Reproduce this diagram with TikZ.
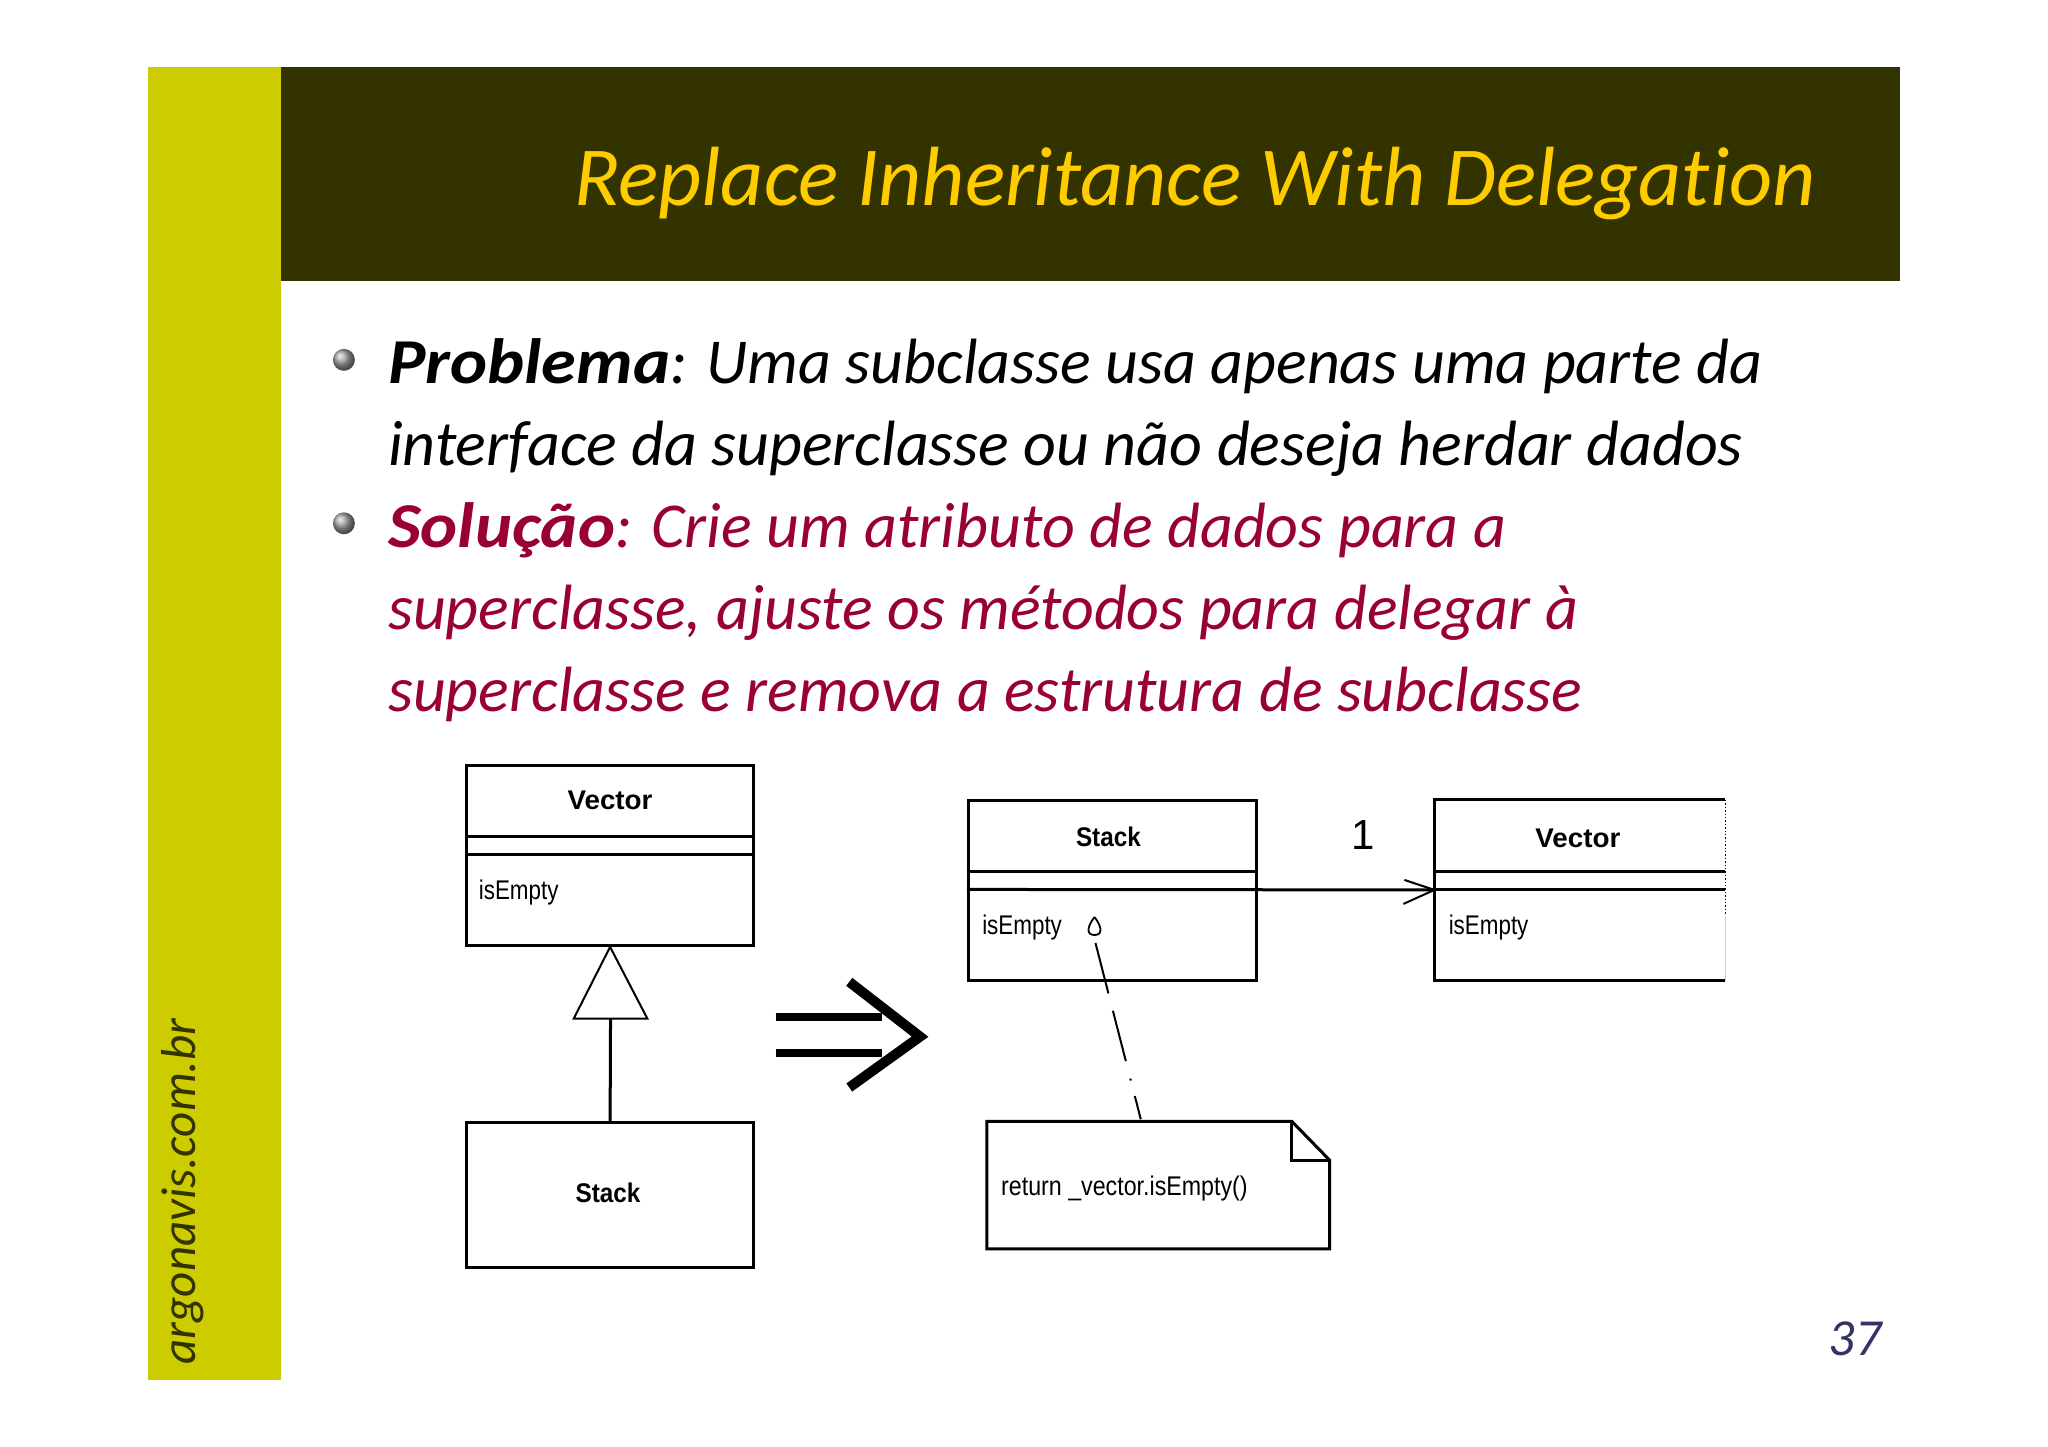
\documentclass[tikz,border=0pt]{standalone}
\usepackage{fontspec}
\setmainfont[Ligatures={NoCommon}]{Carlito}
\newfontfamily\umlfont{Liberation Sans}
\definecolor{bandc}{HTML}{CCCC00}
\definecolor{headc}{HTML}{333300}
\definecolor{titlec}{HTML}{FFCC00}
\definecolor{redc}{HTML}{990033}
\definecolor{numc}{HTML}{333366}
\newcommand{\bhead}[1]{\scalebox{1.1}[1]{\textbf{#1}}}
\tikzset{
  umlbox/.style={draw=black,line width=1.5pt,fill=white,anchor=north west,inner sep=0pt},
  umlline/.style={line width=1.5pt,draw=black},
  thinline/.style={line width=1pt,draw=black},
  boldname/.style={font=\umlfont\bfseries\fontsize{13.5}{15}\selectfont,inner sep=0pt},
  method/.style={font=\umlfont\fontsize{13.5}{15}\selectfont,inner sep=0pt,anchor=base west},
  bodyline/.style={anchor=base west,inner sep=0pt,font=\itshape\fontsize{32}{36}\selectfont},
  bigarrow/.style={line width=4pt,draw=black}
}
\begin{document}
\begin{tikzpicture}[x=0.4984pt,y=-0.4984pt]
\useasboundingbox (0,0) rectangle (2054.6,1451.6);
% slide background shapes
\fill[bandc] (148,67) rectangle (282,1384);
\fill[headc] (282,67) rectangle (1906,282);
\node[anchor=base east,inner sep=0pt,text=titlec,font=\itshape\fontsize{42}{48}\selectfont] (title) at (1822,206) {Replace Inheritance With Delegation};
% bullets
\shade[ball color=gray!75] (345,361) circle (11);
\shade[ball color=gray!75] (345,525) circle (11);
% body text
\node[bodyline] (l1) at (389,385) {\bhead{Problema}: Uma subclasse usa apenas uma parte da};
\node[bodyline] (l2) at (389,467) {interface da superclasse ou não deseja herdar dados};
\node[bodyline,text=redc] (l3) at (389,549) {\bhead{Solução}: Crie um atributo de dados para a};
\node[bodyline,text=redc] (l4) at (389,632) {superclasse, ajuste os métodos para delegar à};
\node[bodyline,text=redc] (l5) at (389,714) {superclasse e remova a estrutura de subclasse};
% side text and page number
\node[rotate=90,anchor=base west,inner sep=0pt,text=headc,font=\itshape\fontsize{24.5}{30}\selectfont] (side) at (196,1369) {argonavis.com.br};
\node[anchor=base east,inner sep=0pt,text=numc,font=\itshape\fontsize{26}{30}\selectfont] (num) at (1888,1360) {37};
% left diagram
\node[umlbox,minimum width=143.6pt,minimum height=90.2pt] (vecA) at (466.5,766) {};
\draw[umlline] ([yshift=-36.5pt]vecA.north west) -- ([yshift=-36.5pt]vecA.north east);
\draw[umlline] ([yshift=-45.5pt]vecA.north west) -- ([yshift=-45.5pt]vecA.north east);
\node[boldname] (vecAn) at (612,803) {\scalebox{1.03}[1]{Vector}};
\node[method] (vecAm) at (480,902) {\scalebox{0.83}[1]{isEmpty}};
\node[umlbox,minimum width=143.6pt,minimum height=72.6pt] (stA) at (466.5,1124.5) {};
\node[boldname] (stAn) at (610,1197) {\scalebox{0.9}[1]{Stack}};
\coordinate (tl) at (575.5,1022);
\coordinate (tr) at (649.5,1022);
\coordinate (tb) at (612.5,1022);
\draw[thinline,fill=white] (vecA.south) -- (tr) -- (tl) -- cycle;
\draw[umlline] (stA.north) -- (tb);
% transformation arrow
\coordinate (a1) at (778,1020);
\coordinate (a1e) at (885,1020);
\coordinate (a2) at (778,1056);
\coordinate (a2e) at (885,1056);
\coordinate (c1) at (852,985);
\coordinate (c2) at (923,1040);
\coordinate (c3) at (852,1091);
\draw[bigarrow] (a1) -- (a1e);
\draw[bigarrow] (a2) -- (a2e);
\draw[line width=5pt,miter limit=10] (c1) -- (c2) -- (c3);
% right diagram
\node[umlbox,minimum width=144pt,minimum height=90pt] (stB) at (970,802) {};
\draw[umlline] ([yshift=-36pt]stB.north west) -- ([yshift=-36pt]stB.north east);
\node[boldname] (stBn) at (1112,840) {\scalebox{0.9}[1]{Stack}};
\node[method] (stBm) at (985,938) {\scalebox{0.83}[1]{isEmpty}};
\node[anchor=north west,inner sep=0pt,minimum width=145pt,minimum height=90pt] (vecB) at (1439,802.5) {};
\draw[umlline] (vecB.north east) -- (vecB.north west) -- (vecB.south west) -- (vecB.south east);
\draw[umlline] ([yshift=-36pt]vecB.north west) -- ([yshift=-36pt]vecB.north east);
\draw[umlline] ([yshift=-45pt]vecB.north west) -- ([yshift=-45pt]vecB.north east);
\draw[black,line width=0.7pt,densely dotted] (vecB.north east) -- ([yshift=-58pt]vecB.north east);
\draw[red!25,line width=0.7pt] ([yshift=-58pt]vecB.north east) -- (vecB.south east);
\node[boldname] (vecBn) at (1583,841) {\scalebox{1.03}[1]{Vector}};
\node[method] (vecBm) at (1453,938) {\scalebox{0.83}[1]{isEmpty}};
\node[inner sep=0pt,font=\umlfont\fontsize{21}{24}\selectfont] (one) at (1368,838) {1};
\coordinate (sl) at ([yshift=-45pt]stB.north west);
\coordinate (vl) at ([yshift=-45pt]vecB.north west);
\draw[umlline] (sl) -- (vl);
\draw[thinline] ([xshift=-15pt,yshift=5pt]vl) -- (vl) -- ([xshift=-15.5pt,yshift=-7pt]vl);
\draw[line width=0.9pt] (1098,920) .. controls (1091,929) and (1089,938) .. (1098,938) .. controls (1107,938) and (1105,929) .. (1098,920);
% note
\coordinate (nw) at (990,1125);
\coordinate (nf) at (1296,1125);
\coordinate (nc) at (1296,1164);
\coordinate (ne) at (1334,1164);
\coordinate (nse) at (1334,1253);
\coordinate (nsw) at (990,1253);
\draw[umlline,fill=white] (nw) -- (nf) -- (ne) -- (nse) -- (nsw) -- cycle;
\draw[umlline] (nf) -- (nc) -- (ne);
\node[method] (notet) at (1004,1199) {\scalebox{0.86}[1]{return \_vector.isEmpty()}};
\coordinate (ds) at (1099,946);
\coordinate (dn) at (1145,1125);
\draw[thinline,dash pattern=on 26pt off 9pt on 26pt off 9pt on 1pt off 8pt on 12pt off 100pt] (ds) -- (dn);
\end{tikzpicture}
\end{document}
